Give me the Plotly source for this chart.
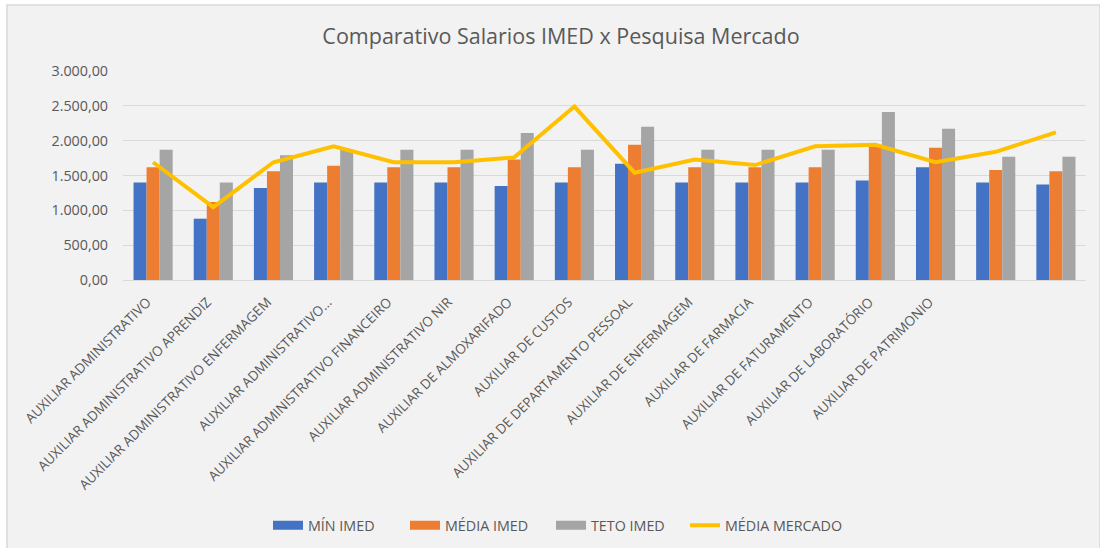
import plotly.graph_objects as go

categories = [
    "AUXILIAR ADMINISTRATIVO",
    "AUXILIAR ADMINISTRATIVO APRENDIZ",
    "AUXILIAR ADMINISTRATIVO ENFERMAGEM",
    "AUXILIAR ADMINISTRATIVO...",
    "AUXILIAR ADMINISTRATIVO FINANCEIRO",
    "AUXILIAR ADMINISTRATIVO NIR",
    "AUXILIAR DE ALMOXARIFADO",
    "AUXILIAR DE CUSTOS",
    "AUXILIAR DE DEPARTAMENTO PESSOAL",
    "AUXILIAR DE ENFERMAGEM",
    "AUXILIAR DE FARMACIA",
    "AUXILIAR DE FATURAMENTO",
    "AUXILIAR DE LABORATÓRIO",
    "AUXILIAR DE PATRIMONIO",
    " ",
    "  ",
]
tick_labels = categories[:14] + ["", ""]

min_imed = [1400, 880, 1320, 1400, 1400, 1400, 1350, 1400, 1670, 1400, 1400, 1400, 1430, 1620, 1400, 1370]
media_imed = [1620, 1120, 1560, 1640, 1620, 1620, 1730, 1620, 1940, 1620, 1620, 1620, 1920, 1900, 1580, 1560]
teto_imed = [1870, 1400, 1790, 1870, 1870, 1870, 2110, 1870, 2200, 1870, 1870, 1870, 2410, 2170, 1770, 1770]
media_mercado = [1690, 1045, 1690, 1920, 1690, 1690, 1760, 2490, 1540, 1730, 1650, 1920, 1940, 1690, 1840, 2120]

y_ticks = [0, 500, 1000, 1500, 2000, 2500, 3000]
y_tick_labels = ["0,00", "500,00", "1.000,00", "1.500,00", "2.000,00", "2.500,00", "3.000,00"]

bar_series = [
    ("MÍN IMED", min_imed, "#4472C4"),
    ("MÉDIA IMED", media_imed, "#ED7D31"),
    ("TETO IMED", teto_imed, "#A5A5A5"),
]

font_family = "Open Sans, Noto Sans, sans-serif"
txt = "#595959"

PLOT_L, PLOT_W = 123, 963
legend_ids = ["legend", "legend2", "legend3", "legend4"]
legend_px = [274, 411, 557, 691]  # left edge of each legend swatch in the original

fig = go.Figure()
for name, vals, col in bar_series:
    fig.add_trace(go.Bar(x=categories, y=vals, name=name, marker_color=col,
                         marker_line_width=0, legendgroup=name, showlegend=False))
for i, (name, vals, col) in enumerate(bar_series):
    fig.add_trace(go.Scatter(x=[None], y=[None], name=name, mode="lines", legendgroup=name,
                             line=dict(color=col, width=9), legend=legend_ids[i]))
fig.add_trace(go.Scatter(x=categories, y=media_mercado, name="MÉDIA MERCADO", mode="lines",
                         line=dict(color="#FFC000", width=4), legend=legend_ids[3]))

legend_common = dict(orientation="h", yanchor="middle", y=-1.175, xanchor="left",
                     font=dict(size=14.3, color=txt), bgcolor="rgba(0,0,0,0)")
legend_layout = {}
for lid, px in zip(legend_ids, legend_px):
    legend_layout[lid] = dict(legend_common, x=(px - 6 - PLOT_L) / PLOT_W)

fig.update_layout(
    width=1100, height=548,
    paper_bgcolor="#ffffff", plot_bgcolor="rgba(0,0,0,0)",
    margin=dict(l=123, r=14, t=71, b=268, autoexpand=False),
    barmode="group", bargap=0.35, bargroupgap=0,
    title=dict(text="Comparativo Salarios IMED x Pesquisa Mercado", x=561 / 1100, xanchor="center",
               y=1 - 36 / 548, yanchor="middle", font=dict(family=font_family, size=21.5, color=txt)),
    font=dict(family=font_family, size=13, color=txt),
    showlegend=True,
    **legend_layout,
)
fig.update_xaxes(tickmode="array", tickvals=categories, ticktext=tick_labels, tickangle=-45,
                 tickfont=dict(size=13.5, color=txt), showgrid=False, showline=True,
                 linecolor="#d9d9d9", ticks="", ticklabelstandoff=8, ticklabelshift=-6,
                 automargin=False)
fig.update_yaxes(range=[0, 3000], tickmode="array", tickvals=y_ticks, ticktext=y_tick_labels,
                 gridcolor="#d9d9d9", zeroline=False, tickfont=dict(size=14.3, color=txt), ticks="",
                 ticklabelstandoff=14, automargin=False)
fig.add_shape(type="rect", xref="paper", yref="paper", layer="below",
              x0=(7 - 123) / 963, x1=(1100 - 123) / 963, y0=(280 - 560) / 209, y1=(280 - 5) / 209,
              line=dict(color="#d9d9d9", width=1.5), fillcolor="#f2f2f2")

fig.write_html("out.html", config={"displayModeBar": False},
               post_script="document.body.style.margin='0';document.body.style.overflow='hidden';")
